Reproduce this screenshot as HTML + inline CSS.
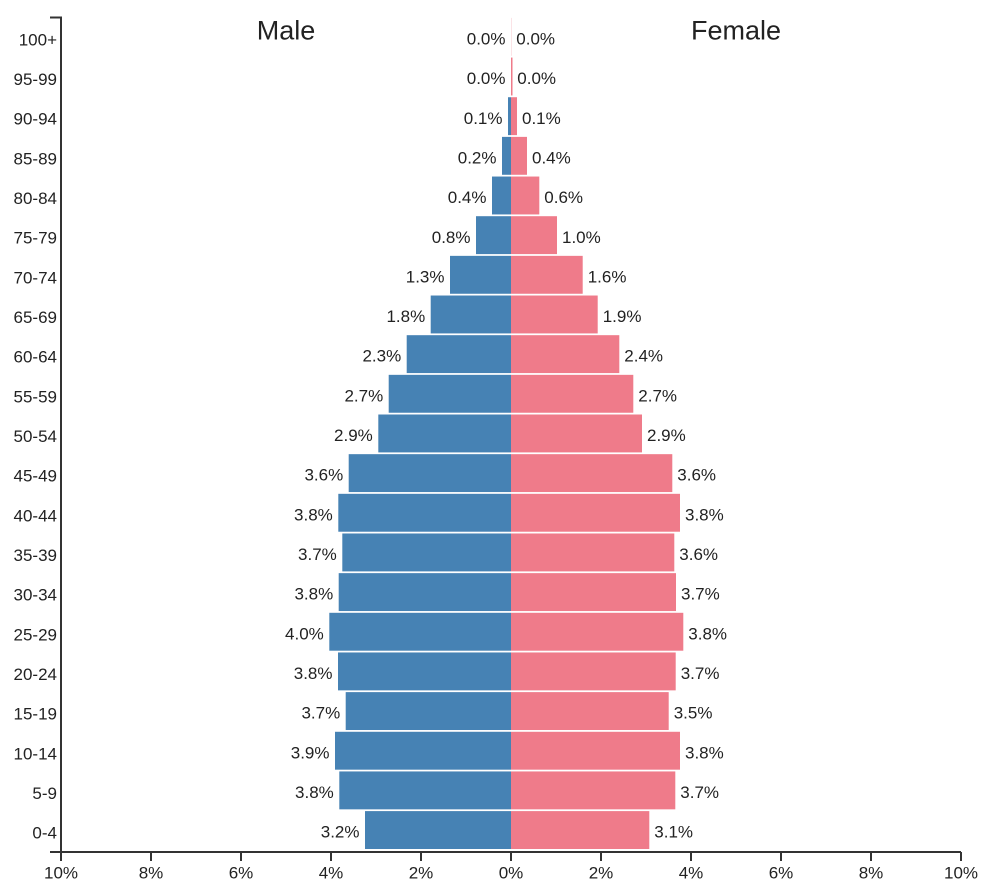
<!DOCTYPE html>
<html>
<head>
<meta charset="utf-8">
<style>
  html, body { margin: 0; padding: 0; background: #ffffff; }
  svg { display: block; }
  text { font-family: "Liberation Sans", Arial, sans-serif; fill: #222; }
  .v { font-size: 17px; }
  .t { font-size: 27px; }
</style>
</head>
<body>
<svg width="983" height="890" viewBox="0 0 983 890" xmlns="http://www.w3.org/2000/svg">
  <rect x="0" y="0" width="983" height="890" fill="#ffffff"/>

  <!-- titles -->
  <text class="t" x="286" y="39.3" text-anchor="middle">Male</text>
  <text class="t" x="736" y="39.3" text-anchor="middle">Female</text>

  <!-- male bars -->
  <g fill="#4682b4">
    <rect x="508" y="97.22" width="3" height="37.9"/>
    <rect x="502" y="136.88" width="9" height="37.9"/>
    <rect x="492" y="176.54" width="19" height="37.9"/>
    <rect x="476" y="216.2" width="35" height="37.9"/>
    <rect x="450" y="255.86" width="61" height="37.9"/>
    <rect x="430.7" y="295.52" width="80.3" height="37.9"/>
    <rect x="406.7" y="335.18" width="104.3" height="37.9"/>
    <rect x="388.7" y="374.84" width="122.3" height="37.9"/>
    <rect x="378.3" y="414.5" width="132.7" height="37.9"/>
    <rect x="348.7" y="454.16" width="162.3" height="37.9"/>
    <rect x="338.3" y="493.82" width="172.7" height="37.9"/>
    <rect x="342.3" y="533.48" width="168.7" height="37.9"/>
    <rect x="338.7" y="573.14" width="172.3" height="37.9"/>
    <rect x="329.3" y="612.8" width="181.7" height="37.9"/>
    <rect x="338" y="652.46" width="173" height="37.9"/>
    <rect x="345.7" y="692.12" width="165.3" height="37.9"/>
    <rect x="335" y="731.78" width="176" height="37.9"/>
    <rect x="339.3" y="771.44" width="171.7" height="37.9"/>
    <rect x="365" y="811.1" width="146" height="37.9"/>
  </g>

  <!-- female bars -->
  <g fill="#ef7b8a">
    <rect x="511" y="17.9" width="0.6" height="37.9" opacity="0.35"/>
    <rect x="511" y="57.56" width="1.5" height="37.9"/>
    <rect x="511" y="97.22" width="6" height="37.9"/>
    <rect x="511" y="136.88" width="16" height="37.9"/>
    <rect x="511" y="176.54" width="28.3" height="37.9"/>
    <rect x="511" y="216.2" width="46" height="37.9"/>
    <rect x="511" y="255.86" width="71.7" height="37.9"/>
    <rect x="511" y="295.52" width="86.7" height="37.9"/>
    <rect x="511" y="335.18" width="108.3" height="37.9"/>
    <rect x="511" y="374.84" width="122.3" height="37.9"/>
    <rect x="511" y="414.5" width="131" height="37.9"/>
    <rect x="511" y="454.16" width="161.3" height="37.9"/>
    <rect x="511" y="493.82" width="169" height="37.9"/>
    <rect x="511" y="533.48" width="163.3" height="37.9"/>
    <rect x="511" y="573.14" width="165" height="37.9"/>
    <rect x="511" y="612.8" width="172.3" height="37.9"/>
    <rect x="511" y="652.46" width="164.7" height="37.9"/>
    <rect x="511" y="692.12" width="157.7" height="37.9"/>
    <rect x="511" y="731.78" width="169" height="37.9"/>
    <rect x="511" y="771.44" width="164.3" height="37.9"/>
    <rect x="511" y="811.1" width="138.3" height="37.9"/>
  </g>

  <!-- male value labels -->
  <g class="v" text-anchor="end">
    <text x="505.5" y="44.45">0.0%</text>
    <text x="505.5" y="84.11">0.0%</text>
    <text x="502.5" y="123.77">0.1%</text>
    <text x="496.5" y="163.43">0.2%</text>
    <text x="486.5" y="203.09">0.4%</text>
    <text x="470.5" y="242.75">0.8%</text>
    <text x="444.5" y="282.41">1.3%</text>
    <text x="425.2" y="322.07">1.8%</text>
    <text x="401.2" y="361.73">2.3%</text>
    <text x="383.2" y="401.39">2.7%</text>
    <text x="372.8" y="441.05">2.9%</text>
    <text x="343.2" y="480.71">3.6%</text>
    <text x="332.8" y="520.37">3.8%</text>
    <text x="336.8" y="560.03">3.7%</text>
    <text x="333.2" y="599.69">3.8%</text>
    <text x="323.8" y="639.35">4.0%</text>
    <text x="332.5" y="679.01">3.8%</text>
    <text x="340.2" y="718.67">3.7%</text>
    <text x="329.5" y="758.33">3.9%</text>
    <text x="333.8" y="797.99">3.8%</text>
    <text x="359.5" y="837.65">3.2%</text>
  </g>

  <!-- female value labels -->
  <g class="v" text-anchor="start">
    <text x="516.3" y="44.45">0.0%</text>
    <text x="517.3" y="84.11">0.0%</text>
    <text x="522" y="123.77">0.1%</text>
    <text x="532" y="163.43">0.4%</text>
    <text x="544.3" y="203.09">0.6%</text>
    <text x="562" y="242.75">1.0%</text>
    <text x="587.7" y="282.41">1.6%</text>
    <text x="602.7" y="322.07">1.9%</text>
    <text x="624.3" y="361.73">2.4%</text>
    <text x="638.3" y="401.39">2.7%</text>
    <text x="647" y="441.05">2.9%</text>
    <text x="677.3" y="480.71">3.6%</text>
    <text x="685" y="520.37">3.8%</text>
    <text x="679.3" y="560.03">3.6%</text>
    <text x="681" y="599.69">3.7%</text>
    <text x="688.3" y="639.35">3.8%</text>
    <text x="680.7" y="679.01">3.7%</text>
    <text x="673.7" y="718.67">3.5%</text>
    <text x="685" y="758.33">3.8%</text>
    <text x="680.3" y="797.99">3.7%</text>
    <text x="654.3" y="837.65">3.1%</text>
  </g>

  <!-- y axis labels -->
  <g class="v" text-anchor="end">
    <text x="57" y="45.4">100+</text>
    <text x="57" y="85.06">95-99</text>
    <text x="57" y="124.72">90-94</text>
    <text x="57" y="164.38">85-89</text>
    <text x="57" y="204.04">80-84</text>
    <text x="57" y="243.7">75-79</text>
    <text x="57" y="283.36">70-74</text>
    <text x="57" y="323.02">65-69</text>
    <text x="57" y="362.68">60-64</text>
    <text x="57" y="402.34">55-59</text>
    <text x="57" y="442">50-54</text>
    <text x="57" y="481.66">45-49</text>
    <text x="57" y="521.32">40-44</text>
    <text x="57" y="560.98">35-39</text>
    <text x="57" y="600.64">30-34</text>
    <text x="57" y="640.3">25-29</text>
    <text x="57" y="679.96">20-24</text>
    <text x="57" y="719.62">15-19</text>
    <text x="57" y="759.28">10-14</text>
    <text x="57" y="798.94">5-9</text>
    <text x="57" y="838.6">0-4</text>
  </g>

  <!-- axes -->
  <g stroke="#333" stroke-width="2" fill="none">
    <path d="M50,17.5 H61 V852"/>
    <path d="M50,852 H961"/>
    <path d="M61,852 V861 M151,852 V861 M241,852 V861 M331,852 V861 M421,852 V861 M511,852 V861 M601,852 V861 M691,852 V861 M781,852 V861 M871,852 V861 M961,852 V861"/>
  </g>

  <!-- x tick labels -->
  <g class="v" text-anchor="middle">
    <text x="61" y="878.5">10%</text>
    <text x="151" y="878.5">8%</text>
    <text x="241" y="878.5">6%</text>
    <text x="331" y="878.5">4%</text>
    <text x="421" y="878.5">2%</text>
    <text x="511" y="878.5">0%</text>
    <text x="601" y="878.5">2%</text>
    <text x="691" y="878.5">4%</text>
    <text x="781" y="878.5">6%</text>
    <text x="871" y="878.5">8%</text>
    <text x="961" y="878.5">10%</text>
  </g>
</svg>
</body>
</html>
